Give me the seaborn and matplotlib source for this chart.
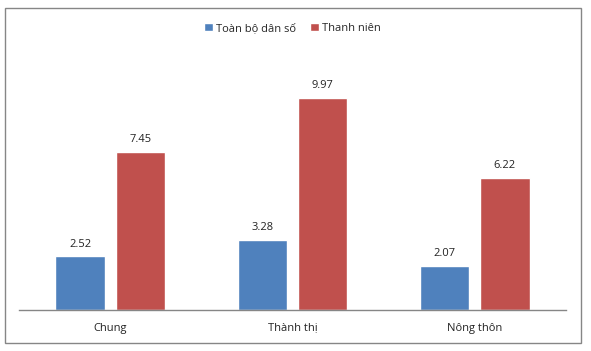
import pandas as pd
import matplotlib.pyplot as plt
import seaborn as sns
from matplotlib.patches import Rectangle

# data
categories = ["Chung", "Thành thị", "Nông thôn"]
toan_bo = [2.52, 3.28, 2.07]
thanh_nien = [7.45, 9.97, 6.22]
series = ["Toàn bộ dân số", "Thanh niên"]

df = pd.DataFrame({
    "cat": categories * 2,
    "val": toan_bo + thanh_nien,
    "series": [series[0]] * 3 + [series[1]] * 3,
})

sns.set_style("white")
plt.rcParams["font.family"] = ["Open Sans", "DejaVu Sans"]

fig = plt.figure(figsize=(5.91, 3.51), dpi=100)
ax = fig.add_axes([19 / 591, 41 / 351, 547 / 591, 255 / 351])

palette = {series[0]: "#4F81BD", series[1]: "#C0504D"}
sns.barplot(data=df, x="cat", y="val", hue="series", palette=palette,
            width=0.66, gap=0.18, saturation=1, ax=ax, legend=True)

for c in ax.containers:
    ax.bar_label(c, labels=[f"{v:.2f}" for v in c.datavalues], padding=5,
                 fontsize=8, color="#222222")

ax.set_ylim(0, 12)
ax.set_xlim(-0.5, 2.5)
ax.set_xlabel("")
ax.set_ylabel("")
ax.set_yticks([])
ax.tick_params(axis="x", length=0, labelsize=8, pad=9, colors="#222222")
for s in ["top", "right", "left"]:
    ax.spines[s].set_visible(False)
ax.spines["bottom"].set_color("#868686")
ax.spines["bottom"].set_linewidth(1)

ax.legend(loc="upper center", bbox_to_anchor=(0.5, 1.165), ncol=2, frameon=False,
          fontsize=8, handlelength=0.75, handleheight=0.75, handletextpad=0.3,
          columnspacing=1.3)

# outer chart border
fig.patches.append(Rectangle((5 / 591, 8 / 351), 576 / 591, 335 / 351,
                             transform=fig.transFigure, fill=False,
                             edgecolor="#868686", linewidth=1))

fig.savefig("out.png", dpi=100)
